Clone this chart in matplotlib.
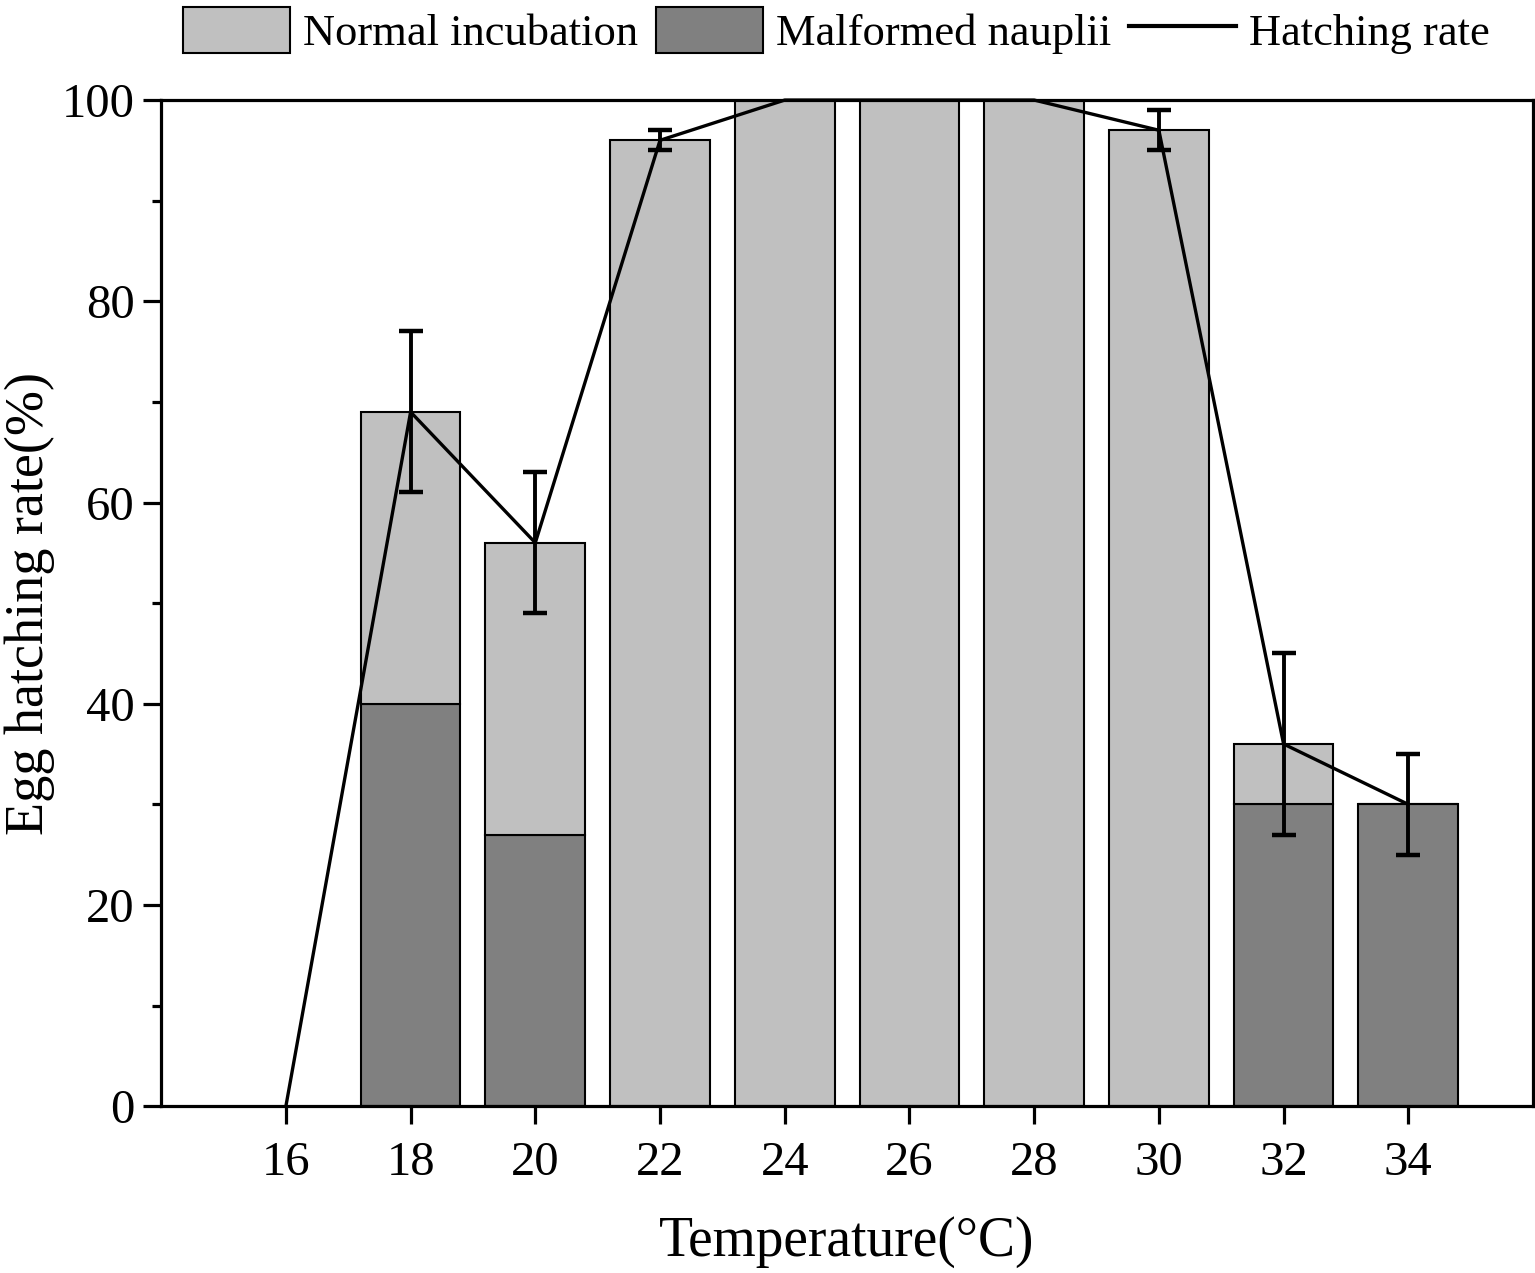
import matplotlib.pyplot as plt
from matplotlib.ticker import MultipleLocator

plt.rcParams['font.family'] = ['Liberation Serif', 'DejaVu Serif']

# data
temps = [16, 18, 20, 22, 24, 26, 28, 30, 32, 34]
hatching = [0, 69, 56, 96, 100, 100, 100, 97, 36, 30]
hatch_err = [0, 8, 7, 1, 0, 0, 0, 2, 9, 5]
malformed = [0, 40, 27, 0, 0, 0, 0, 0, 30, 30]
normal = [h - m for h, m in zip(hatching, malformed)]

light = '#C0C0C0'
dark = '#808080'

fig = plt.figure(figsize=(15.35, 12.73), dpi=100)
ax = fig.add_axes([0.105, 0.131, 0.8937, 0.7904])

# bars (no bar for 16, where nothing hatched)
bt = temps[1:]
b1 = ax.bar(bt, malformed[1:], width=1.6, color=dark, edgecolor='black', linewidth=1.5,
            label='Malformed nauplii', zorder=2)
b2 = ax.bar(bt, normal[1:], width=1.6, bottom=malformed[1:], color=light, edgecolor='black',
            linewidth=1.5, label='Normal incubation', zorder=2)

ln, = ax.plot(temps, hatching, color='black', lw=2.4, label='Hatching rate', zorder=3, clip_on=False)
errs = [(t, h, e) for t, h, e in zip(temps, hatching, hatch_err) if e > 0]
ax.errorbar([e[0] for e in errs], [e[1] for e in errs], yerr=[e[2] for e in errs],
            fmt='none', ecolor='black', elinewidth=2.8, capsize=8.5, capthick=3.2, zorder=4)

ax.set_xlim(14, 36)
ax.set_ylim(0, 100)
ax.set_xticks(temps)
ax.yaxis.set_major_locator(MultipleLocator(20))
ax.yaxis.set_minor_locator(MultipleLocator(10))
ax.tick_params(axis='both', which='major', direction='out', length=13, width=2.3,
               labelsize=35, pad=6)
ax.tick_params(axis='y', which='minor', direction='out', length=6.5, width=2.3)
ax.tick_params(axis='x', pad=12)
for s in ax.spines.values():
    s.set_linewidth(2.3)

ax.set_xlabel('Temperature(°C)', fontsize=40, labelpad=22)
ax.set_ylabel('Egg hatching rate(%)', fontsize=39, labelpad=5)

fig.legend([b2, b1, ln], ['Normal incubation', 'Malformed nauplii', 'Hatching rate'],
           loc='upper right', bbox_to_anchor=(0.985, 1.012), ncol=3, frameon=False,
           fontsize=32, handlelength=2.4, handleheight=1.2, handletextpad=0.3,
           columnspacing=0.4, borderaxespad=0.1)
for line in fig.legends[0].get_lines():
    line.set_linewidth(3)

fig.savefig('out.png', dpi=100)
